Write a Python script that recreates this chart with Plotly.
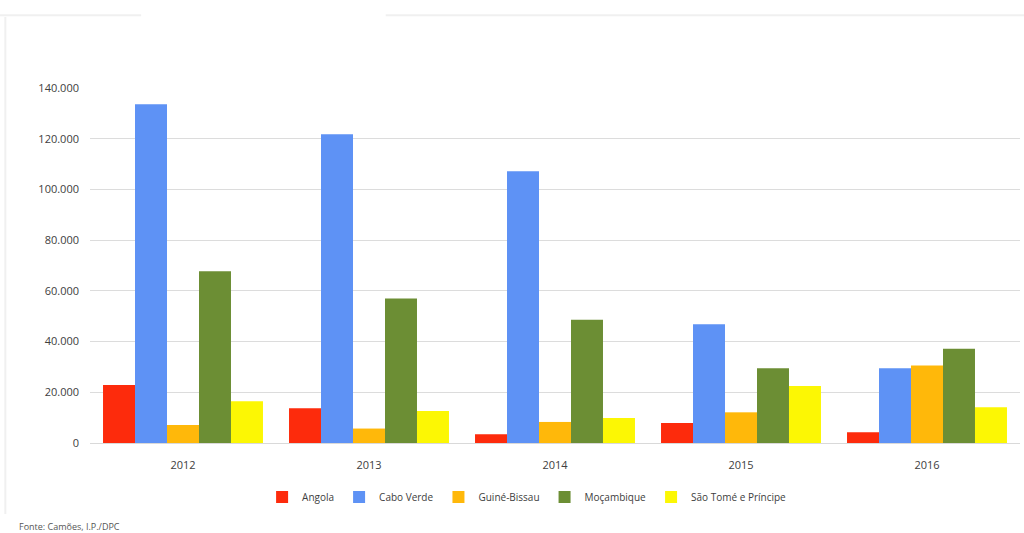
import plotly.graph_objects as go

years = ["2012", "2013", "2014", "2015", "2016"]

angola = [22900, 13700, 3500, 7900, 4200]
cabo_verde = [133600, 121800, 107200, 46800, 29500]
guine_bissau = [7100, 5700, 8300, 12100, 30600]
mocambique = [67700, 57000, 48600, 29500, 37200]
sao_tome = [16500, 12600, 9900, 22500, 14100]

series = [
    ("Angola", angola, "#fd2b0c"),
    ("Cabo Verde", cabo_verde, "#5e92f5"),
    ("Guiné-Bissau", guine_bissau, "#ffb80a"),
    ("Moçambique", mocambique, "#6c8e34"),
    ("São Tomé e Príncipe", sao_tome, "#fcf704"),
]

fig = go.Figure()
for name, vals, color in series:
    fig.add_trace(go.Bar(
        x=years, y=vals, name=name,
        marker=dict(color=color, line=dict(width=0)),
    ))

fig.update_layout(
    width=1024, height=533,
    margin=dict(l=90, r=4, t=88, b=90),
    paper_bgcolor="white", plot_bgcolor="white",
    barmode="group", bargap=0.14, bargroupgap=0,
    separators=",.",
    font=dict(family="Open Sans, Liberation Sans, sans-serif", color="#404040", size=11),
    showlegend=True,
    legend=dict(
        orientation="h", x=0.47, xanchor="center", y=-0.152, yanchor="middle",
        font=dict(size=10, color="#404040"), itemwidth=30,
        traceorder="normal",
    ),
    xaxis=dict(
        showgrid=False, showline=True, linecolor="#d9d9d9", linewidth=1,
        ticks="", tickfont=dict(size=11, color="#404040"), ticklabelstandoff=12,
    ),
    yaxis=dict(
        range=[0, 140000], dtick=20000, tickformat=",d",
        showgrid=True, gridcolor="#dcdcdc", gridwidth=1,
        zeroline=False, showline=False, ticks="",
        tickfont=dict(size=11, color="#404040"), ticklabelstandoff=10,
    ),
    annotations=[dict(
        text="Fonte: Camões, I.P./DPC", xref="paper", yref="paper",
        x=-0.078, y=-0.21, xanchor="left", yanchor="top",
        showarrow=False, font=dict(size=9, color="#555555"),
    )],
    shapes=[
        dict(type="line", xref="paper", yref="paper", x0=-0.097, x1=0.055,
             y0=1.205, y1=1.205, line=dict(color="#f0f0f0", width=2)),
        dict(type="line", xref="paper", yref="paper", x0=0.318, x1=1.01,
             y0=1.205, y1=1.205, line=dict(color="#f0f0f0", width=2)),
        dict(type="line", xref="paper", yref="paper", x0=-0.091, x1=-0.091,
             y0=-0.2, y1=1.20, line=dict(color="#f0f0f0", width=2)),
    ],
)

fig.write_html("out.html")
